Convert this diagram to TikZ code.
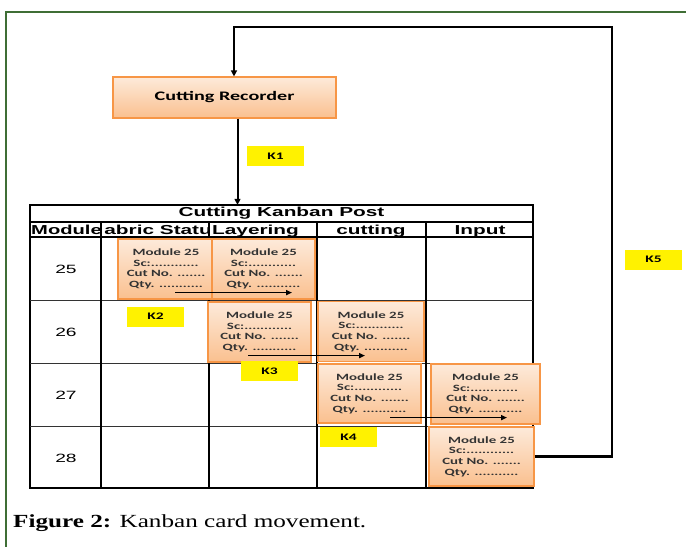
\documentclass[tikz,border=0pt]{standalone}
\usepackage{fontspec}
\setmainfont{Liberation Serif}
\newfontfamily\capfont[FakeStretch=1.36]{Liberation Serif}
\newfontfamily\cardfont[FakeStretch=1.55]{Carlito}
\newfontfamily\postfont[FakeStretch=1.6]{Liberation Sans}
\usetikzlibrary{positioning,arrows.meta}
\definecolor{cardedge}{HTML}{F79646}
\definecolor{cardtop}{HTML}{FDEADA}
\definecolor{cardbot}{HTML}{FAC08F}
\definecolor{framegreen}{HTML}{3F6E35}
\tikzset{
  card/.style={draw=cardedge, line width=1.2pt, top color=cardtop, bottom color=cardbot,
    minimum width=103pt, minimum height=60pt, align=center, inner sep=0pt, text=black!80,
    font=\cardfont\bfseries\fontsize{9.6}{10.6}\selectfont},
  klabel/.style={fill=yellow, minimum width=57pt, minimum height=20pt, inner sep=0pt,
    font=\cardfont\bfseries\fontsize{10}{10}\selectfont},
  flow/.style={line width=2.4pt, -{Triangle[length=6pt,width=6pt]}},
  move/.style={line width=1.6pt, -{Triangle[length=6pt,width=5pt]}},
  head/.style={inner sep=0pt, font=\postfont\bfseries\fontsize{13}{13}\selectfont},
  rownum/.style={inner sep=0pt, font=\postfont\fontsize{12}{12}\selectfont},
}
\newcommand{\kcard}{Module 25\\Sc:............\\Cut No. .......\\Qty. ...........}

\begin{document}
\begin{tikzpicture}[x=1pt,y=-1pt]
  \useasboundingbox (0,0) rectangle (686,547);
  \draw[framegreen, line width=2pt] (686,12) -- (6,12) -- (6,547);

  % recorder
  \node[draw=cardedge, line width=1.2pt, top color=cardtop, bottom color=cardbot,
    minimum width=223pt, minimum height=41pt,
    font=\cardfont\bfseries\fontsize{13}{13}\selectfont] (rec) at (224.5,97.5) {Cutting Recorder};

  % kanban post
  \draw[line width=1.6pt] (30,205) rectangle (533,488);
  \draw[line width=1.2pt] (30,222) -- (533,222);
  \draw[line width=1.2pt] (30,237) -- (533,237);
  \foreach \y in {300,363,426}
    \draw[line width=0.8pt, black!80] (30,\y) -- (533,\y);
  \foreach \x in {101,209,317,426}
    \draw[line width=1.2pt] (\x,222) -- (\x,488);

  \node[head, minimum width=503pt, minimum height=17pt] (post) at (281.5,213.5) {Cutting Kanban Post};
  \node[head, anchor=base west, xscale=0.97] (hmod) at (31,234) {Module};
  \begin{scope}
    \clip (104,223) rectangle (209,237);
    \node[head, anchor=base west] (hfab) at (91.5,234) {Fabric Status};
  \end{scope}
  \node[head, anchor=base west] (hlay) at (212,234) {Layering};
  \node[head, anchor=base] (hcut) at (371,234) {cutting};
  \node[head, anchor=base] (hinp) at (480,234) {Input};

  \node[rownum, anchor=base] (r25) at (66,273) {25};
  \node[rownum, anchor=base] (r26) at (66,336) {26};
  \node[rownum, anchor=base] (r27) at (66,399) {27};
  \node[rownum, anchor=base] (r28) at (66,462) {28};

  % cards
  \node[card, minimum width=96pt] (c25fab) at (166,269) {\kcard};
  \node[card] (c25lay) at (263.5,269) {\kcard};
  \node[card] (c26lay) at (259.5,332) {\kcard};
  \node[card, minimum width=106pt] (c26cut) at (371,331.5) {\kcard};
  \node[card, minimum height=59pt] (c27cut) at (369.5,393.5) {\kcard};
  \node[card, minimum width=109pt] (c27inp) at (485.5,394) {\kcard};
  \node[card, minimum width=105pt, minimum height=59pt] (c28inp) at (481.5,456.5) {\kcard};

  % movements
  \draw[move] ([shift={(9,-7)}]c25fab.south) -- ([shift={(28.5,-7)}]c25lay.south);
  \draw[move] ([shift={(-11.5,-7)}]c26lay.south) -- ([shift={(-6,-6.5)}]c26cut.south);
  \draw[move] ([shift={(20.5,-6)}]c27cut.south) -- ([shift={(21.5,-7)}]c27inp.south);

  \draw[flow, line width=2pt] ([xshift=13pt]rec.south) -- ([xshift=13pt]rec.south |- post.north);
  \coordinate (turn) at (612,27);
  \draw[flow] (c28inp.east) -| (turn) -| ([xshift=9.5pt]rec.north);

  % labels
  \node[klabel] (k1) at (275.5,156) {K1};
  \node[klabel] (k2) at (155.5,316.5) {K2};
  \node[klabel] (k3) at (269.5,371) {K3};
  \node[klabel] (k4) at (348.5,437) {K4};
  \node[klabel] (k5) at (653.5,259.5) {K5};

  \node[anchor=base west, inner sep=0pt, font=\capfont\fontsize{18.5}{20}\selectfont] (cap)
    at (13,527) {\textbf{Figure 2:} Kanban card movement.};
\end{tikzpicture}
\end{document}
